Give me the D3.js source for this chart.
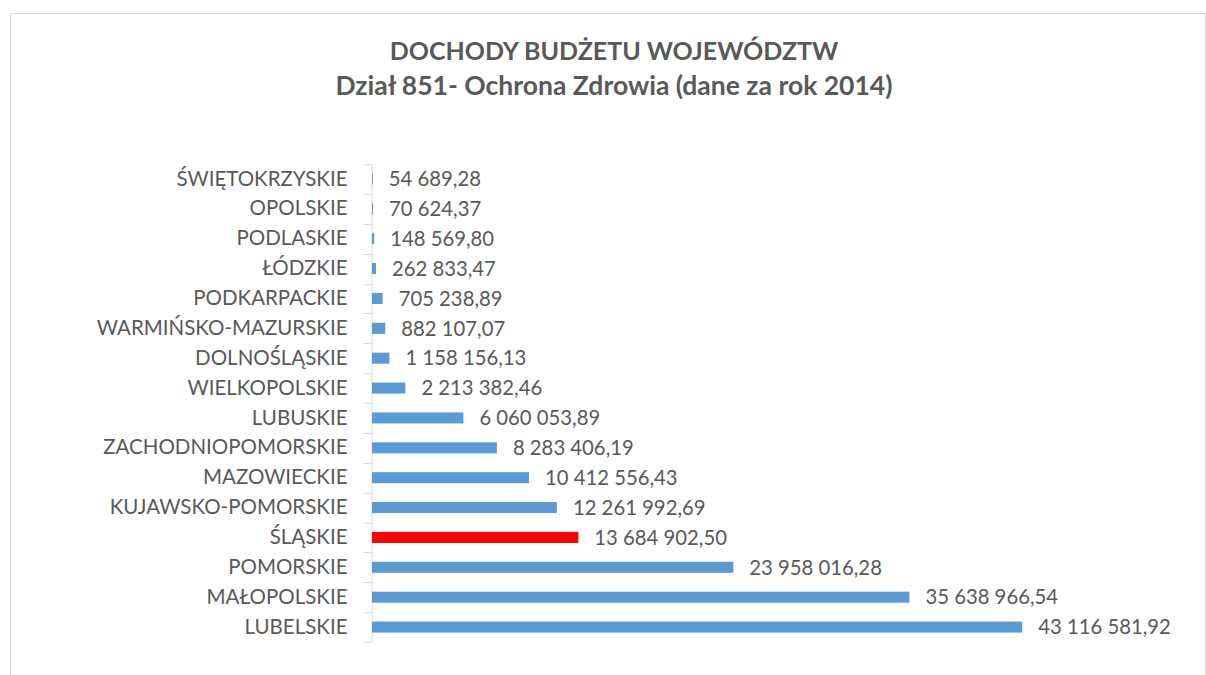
<!DOCTYPE html>
<html>
<head>
<meta charset="utf-8">
<script src="https://cdn.jsdelivr.net/npm/d3@7"></script>
<style>
  body { margin: 0; background: #fff; }
  text { font-family: Lato, "Noto Sans", sans-serif; fill: #595959; }
</style>
</head>
<body>
<svg id="chart" width="1206" height="675"></svg>
<script>
// wojewodztwa, top to bottom as in the chart
const categories = [
  "ŚWIĘTOKRZYSKIE", "OPOLSKIE", "PODLASKIE", "ŁÓDZKIE", "PODKARPACKIE",
  "WARMIŃSKO-MAZURSKIE", "DOLNOŚLĄSKIE", "WIELKOPOLSKIE", "LUBUSKIE",
  "ZACHODNIOPOMORSKIE", "MAZOWIECKIE", "KUJAWSKO-POMORSKIE", "ŚLĄSKIE",
  "POMORSKIE", "MAŁOPOLSKIE", "LUBELSKIE"
];
const values = [
  54689.28, 70624.37, 148569.80, 262833.47, 705238.89,
  882107.07, 1158156.13, 2213382.46, 6060053.89,
  8283406.19, 10412556.43, 12261992.69, 13684902.50,
  23958016.28, 35638966.54, 43116581.92
];
const highlighted = "ŚLĄSKIE";
const titleLines = ["DOCHODY BUDŻETU WOJEWÓDZTW", "Dział 851- Ochrona Zdrowia (dane za rok 2014)"];
const xMax = 50000000;

const data = categories.map((c, i) => ({ name: c, value: values[i] }));

const svg = d3.select("#chart");
const M = { left: 371, right: 1126, top: 164, bottom: 642 };

const pl = d3.formatLocale({ decimal: ",", thousands: "\u00a0", grouping: [3], currency: ["", " zł"] });
const fmt = pl.format(",.2f");

// chart frame
svg.append("rect")
    .attr("x", 10.5).attr("y", 13.5)
    .attr("width", 1195).attr("height", 700)
    .attr("fill", "none").attr("stroke", "#d9d9d9");

const title = svg.append("g").attr("class", "title");
title.selectAll("text")
  .data(titleLines)
  .join("text")
    .attr("x", 614)
    .attr("y", (d, i) => 60 + i * 35)
    .attr("text-anchor", "middle")
    .attr("font-size", (d, i) => i ? 26.5 : 25)
    .attr("font-weight", "bold")
    .text(d => d);

const x = d3.scaleLinear().domain([0, xMax]).range([M.left + 1, M.right]);
const y = d3.scaleBand()
    .domain(categories)
    .range([M.top, M.bottom])
    .paddingInner(0.63)
    .paddingOuter(0.315);

// category axis
const yAxis = d3.axisLeft(y).tickSize(0).tickPadding(24);
const gy = svg.append("g")
    .attr("transform", "translate(" + [M.left + 0.5, 0] + ")")
    .call(yAxis);
gy.select(".domain").attr("stroke", "#d9d9d9");
gy.selectAll(".tick text")
    .attr("font-size", 20.5)
    .attr("fill", "#595959")
    .style("font-family", "Lato, 'Noto Sans', sans-serif");

// separators between categories
const step = y.step();
const bounds = d3.range(categories.length + 1).map(i => M.top + i * step);
gy.selectAll(".sep")
  .data(bounds)
  .join("line")
    .attr("class", "sep")
    .attr("x1", -8).attr("x2", 0)
    .attr("y1", d => Math.round(d) + 0.5).attr("y2", d => Math.round(d) + 0.5)
    .attr("stroke", "#d9d9d9");

svg.append("g").attr("class", "bars")
  .selectAll("rect")
  .data(data)
  .join("rect")
    .attr("x", x(0))
    .attr("y", d => y(d.name))
    .attr("width", d => x(d.value) - x(0))
    .attr("height", y.bandwidth())
    .attr("fill", d => d.name === highlighted ? "#ff0000" : "#5b9bd5");

svg.append("g").attr("class", "labels")
  .selectAll("text")
  .data(data)
  .join("text")
    .attr("x", d => x(d.value) + 16)
    .attr("y", d => y(d.name) + y.bandwidth() / 2)
    .attr("dy", "0.36em")
    .attr("font-size", 20.3)
    .text(d => fmt(d.value));
</script>
</body>
</html>
